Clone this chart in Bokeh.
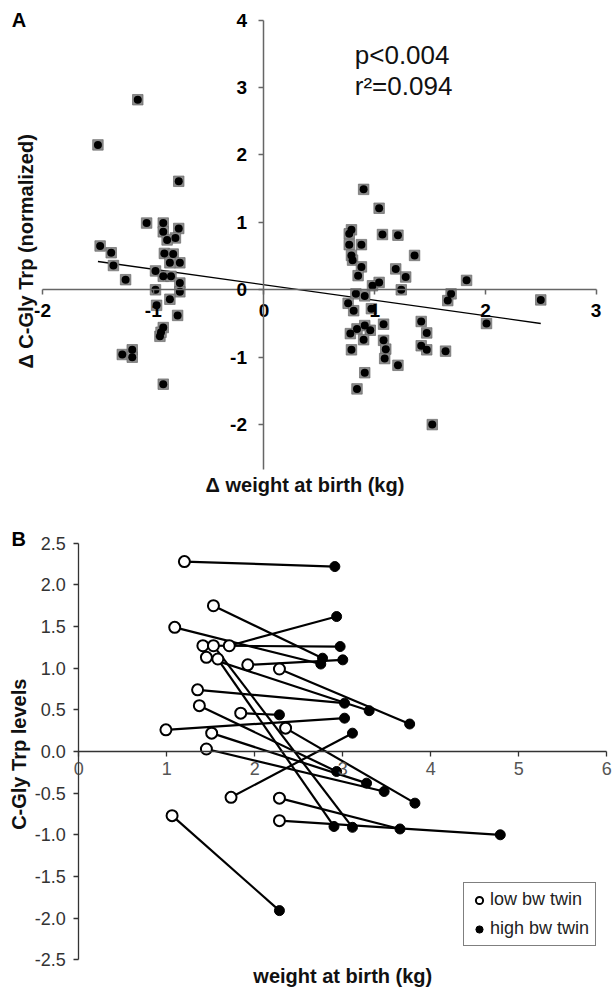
import numpy as np
from bokeh.plotting import figure
from bokeh.layouts import column
from bokeh.models import (Range1d, FixedTicker, Label, Legend, LegendItem,
                          PrintfTickFormatter)
from bokeh.embed import file_html
from bokeh.resources import INLINE

# ---------------- Panel A data ----------------
a_delta_weight = [
    -1.50, -1.14, -0.77, -1.06, -0.91, -0.91, -0.77, -0.80, -0.875, -1.48,
    -1.38, -0.90, -0.82, -1.36, -0.76, -0.85, -1.25, -0.98, -0.91, -0.84,
    -0.76, -0.76, -0.98, -0.85, -0.97, -0.78, -0.91, -0.94, -0.93, -1.28,
    -1.19, -1.19, -0.91,
    0.90, 1.04, 0.79, 0.77, 1.07, 1.21, 0.77, 0.88, 1.36, 0.79,
    0.80, 0.88, 1.19, 0.85, 1.28, 1.83, 1.04, 0.98, 1.24, 0.83,
    0.91, 1.69, 1.66, 2.50, 0.76, 0.81, 0.97, 2.01, 1.42, 1.08,
    0.91, 0.84, 0.96, 0.78, 1.47, 1.08, 0.90, 1.42, 1.47, 1.10,
    0.79, 1.64, 1.09, 1.21, 0.91, 0.84, 1.52,
]
a_delta_cgly = [
    2.15, 2.82, 1.61, 0.99, 0.99, 0.86, 0.91, 0.77, 0.74, 0.65,
    0.55, 0.54, 0.53, 0.36, 0.40, 0.40, 0.15, 0.28, 0.20, 0.20,
    0.10, -0.03, 0.00, -0.14, -0.23, -0.38, -0.56, -0.69, -0.63, -0.96,
    -0.89, -1.00, -1.40,
    1.49, 1.21, 0.89, 0.83, 0.82, 0.81, 0.67, 0.67, 0.51, 0.51,
    0.44, 0.34, 0.31, 0.21, 0.19, 0.14, 0.11, 0.06, 0.00, -0.06,
    -0.09, -0.06, -0.16, -0.15, -0.20, -0.31, -0.28, -0.50, -0.47, -0.51,
    -0.53, -0.58, -0.60, -0.65, -0.64, -0.75, -0.74, -0.83, -0.89, -0.88,
    -0.89, -0.91, -1.02, -1.12, -1.23, -1.47, -2.00,
]
a_fit_weight = [-1.50, 2.50]
a_fit_cgly = [0.42, -0.50]
a_x_ticks = [-2, -1, 0, 1, 2, 3]
a_y_ticks = [-2, -1, 0, 1, 2, 3, 4]

# ---------------- Panel B data (twin pairs) ----------------
b_low_weight = [1.20, 1.53, 1.09, 1.71, 1.41, 1.92, 2.28, 1.35, 1.45, 1.58, 1.53,
                1.37, 1.84, 0.99, 1.51, 2.35, 1.45, 1.73, 2.28, 1.06, 2.28]
b_low_cgly = [2.28, 1.75, 1.49, 1.27, 1.27, 1.04, 0.99, 0.74, 1.13, 1.11, 1.27,
              0.55, 0.46, 0.26, 0.22, 0.28, 0.03, -0.55, -0.56, -0.77, -0.83]
b_high_weight = [2.91, 2.77, 2.75, 2.93, 2.97, 3.00, 3.76, 3.02, 3.30, 2.90, 3.11,
                 2.93, 2.28, 3.02, 3.27, 3.82, 3.47, 3.11, 3.65, 2.28, 4.79]
b_high_cgly = [2.22, 1.12, 1.05, 1.62, 1.26, 1.10, 0.33, 0.58, 0.49, -0.90, -0.91,
               -0.24, 0.44, 0.40, -0.38, -0.62, -0.48, 0.22, -0.93, -1.91, -1.00]
b_x_ticks = [0, 1, 2, 3, 4, 5, 6]
b_y_ticks = [-2.5, -2.0, -1.5, -1.0, -0.5, 0.0, 0.5, 1.0, 1.5, 2.0, 2.5]

FONT = "Liberation Sans"


def bare_figure(w, h, xr, yr):
    p = figure(width=w, height=h, x_range=Range1d(*xr), y_range=Range1d(*yr),
               output_backend="svg", toolbar_location=None, title_location=None,
               min_border_left=0, min_border_right=0, min_border_top=0,
               min_border_bottom=0)
    p.frame_align = False
    p.outline_line_color = None
    p.grid.visible = False
    p.background_fill_color = "white"
    p.border_fill_color = "white"
    return p


# ================= Panel A =================
pa = bare_figure(614, 498, (-2.380, 3.166), (-3.096, 4.292))

for ax in (pa.xaxis, pa.yaxis):
    ax.fixed_location = 0
    ax.axis_line_color = "#666666"
    ax.axis_line_width = 1.5
    ax.major_tick_line_color = "#666666"
    ax.major_tick_line_width = 1.5
    ax.major_tick_in = 0
    ax.major_tick_out = 5
    ax.minor_tick_line_color = None
    ax.major_label_text_font = FONT
    ax.major_label_text_font_size = "19px"
    ax.major_label_text_font_style = "bold"
    ax.major_label_text_color = "black"
    ax.formatter = PrintfTickFormatter(format="%d")
pa.xaxis.ticker = FixedTicker(ticks=a_x_ticks)
pa.yaxis.ticker = FixedTicker(ticks=a_y_ticks)
pa.xaxis.bounds = (-2, 3)
pa.yaxis.bounds = (-2.67, 4)
pa.xaxis.major_label_standoff = 9
pa.yaxis.major_label_standoff = 12

pa.line(a_fit_weight, a_fit_cgly, line_color="black", line_width=1.3)
pa.scatter(a_delta_weight, a_delta_cgly, marker="square", size=10.5,
           fill_color="#8c8c8c", line_color="#6a6a6a", line_width=0.7)
pa.scatter(a_delta_weight, a_delta_cgly, marker="circle", size=8,
           fill_color="black", line_color=None)

pa.add_layout(Label(x=-2.213, y=4.01, text="A", text_font=FONT, text_font_size="20px",
                    text_font_style="bold", text_color="black",
                    text_align="center", text_baseline="middle"))
pa.add_layout(Label(x=0.82, y=3.48, text="p<0.004", text_font=FONT, text_font_size="26px",
                    text_color="#111111", text_align="left", text_baseline="middle"))
pa.add_layout(Label(x=0.82, y=3.03, text="r²=0.094", text_font=FONT, text_font_size="26px",
                    text_color="#111111", text_align="left", text_baseline="middle"))
pa.add_layout(Label(x=0.37, y=-2.90, text="Δ weight at birth (kg)", text_font=FONT,
                    text_font_size="20px", text_font_style="bold", text_color="#111111",
                    text_align="center", text_baseline="middle"))
pa.add_layout(Label(x=-2.154, y=0.57, text="Δ C-Gly Trp (normalized)", text_font=FONT,
                    text_font_size="20px", text_font_style="bold", angle=np.pi / 2,
                    text_color="#111111", text_align="center", text_baseline="middle"))

# ================= Panel B =================
pb = bare_figure(614, 490, (-0.890, 6.088), (-2.845, 3.037))

for ax in (pb.xaxis, pb.yaxis):
    ax.fixed_location = 0
    ax.axis_line_color = "#333333"
    ax.axis_line_width = 1.3
    ax.major_tick_line_color = "#333333"
    ax.major_tick_line_width = 1.3
    ax.major_tick_in = 0
    ax.major_tick_out = 5
    ax.minor_tick_line_color = None
    ax.major_label_text_font = FONT
    ax.major_label_text_font_size = "18px"
pb.xaxis.ticker = FixedTicker(ticks=b_x_ticks)
pb.yaxis.ticker = FixedTicker(ticks=b_y_ticks)
pb.xaxis.bounds = (0, 6)
pb.yaxis.bounds = (-2.5, 2.5)
pb.xaxis.formatter = PrintfTickFormatter(format="%d")
pb.yaxis.formatter = PrintfTickFormatter(format="%.1f")
pb.xaxis.major_label_text_color = "#555555"
pb.yaxis.major_label_text_color = "#333333"
pb.xaxis.major_label_standoff = 6
pb.yaxis.major_label_standoff = 8

pb.segment(x0=b_low_weight, y0=b_low_cgly, x1=b_high_weight, y1=b_high_cgly,
           line_color="black", line_width=2.2)
r_high = pb.scatter(b_high_weight, b_high_cgly, marker="circle", size=10,
                    fill_color="black", line_color="black")
r_low = pb.scatter(b_low_weight, b_low_cgly, marker="circle", size=11,
                   fill_color="white", line_color="black", line_width=2)

pb.add_layout(Label(x=-0.682, y=2.553, text="B", text_font=FONT, text_font_size="20px",
                    text_font_style="bold", text_color="black",
                    text_align="center", text_baseline="middle"))
pb.add_layout(Label(x=-0.678, y=0.0, text="C-Gly Trp  levels", text_font=FONT,
                    text_font_size="20px", text_font_style="bold", angle=np.pi / 2,
                    text_color="#111111", text_align="center", text_baseline="middle"))
pb.add_layout(Label(x=3.0, y=-2.70, text="weight at birth (kg)", text_font=FONT,
                    text_font_size="20px", text_font_style="bold", text_color="#111111",
                    text_align="center", text_baseline="middle"))

legend = Legend(items=[LegendItem(label="low bw twin", renderers=[r_low]),
                       LegendItem(label="high bw twin", renderers=[r_high])],
                location=(463, 42), padding=6, spacing=8, margin=0,
                glyph_width=18, glyph_height=20, label_standoff=2,
                border_line_color="black", border_line_width=1.2,
                background_fill_color="white", background_fill_alpha=1.0,
                label_text_font=FONT, label_text_font_size="18px",
                label_text_color="#222222")
pb.add_layout(legend)

layout = column(pa, pb, spacing=0)
open("out.html", "w").write(file_html(layout, INLINE))
